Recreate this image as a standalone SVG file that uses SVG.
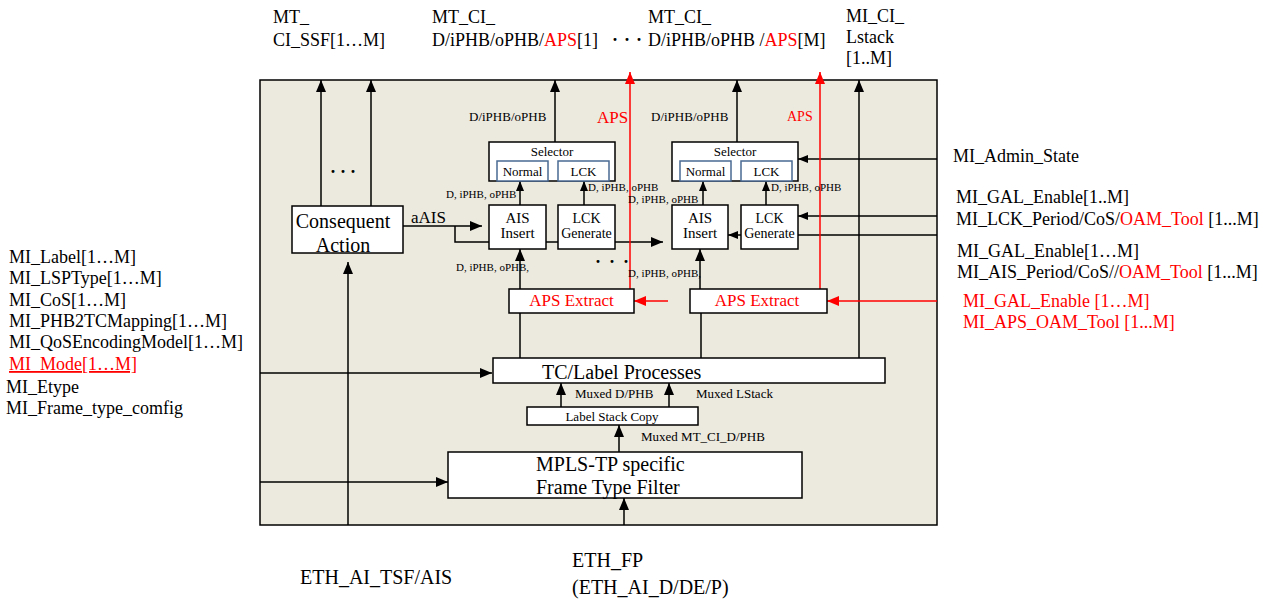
<svg xmlns="http://www.w3.org/2000/svg" width="1268" height="603" viewBox="0 0 1268 603">
<defs>
<marker id="ab" viewBox="0 0 12 10" refX="12" refY="5" markerWidth="12" markerHeight="10" markerUnits="userSpaceOnUse" orient="auto"><path d="M0,0 L12,5 L0,10 z" fill="#000"/></marker>
<marker id="as" viewBox="0 0 10 8" refX="10" refY="4" markerWidth="10" markerHeight="8" markerUnits="userSpaceOnUse" orient="auto"><path d="M0,0 L10,4 L0,8 z" fill="#000"/></marker>
<marker id="ar" viewBox="0 0 12 10" refX="12" refY="5" markerWidth="12" markerHeight="10" markerUnits="userSpaceOnUse" orient="auto"><path d="M0,0 L12,5 L0,10 z" fill="#f00"/></marker>
</defs>
<style>
text{font-family:"Liberation Serif","Times New Roman",serif;fill:#000;font-size:18px}
.r{fill:#f00}
.m{text-anchor:middle}
.s11{font-size:11px}
.s13{font-size:13px}
.box{fill:#fff;stroke:#000;stroke-width:1.5}
.inner{fill:#fff;stroke:#4a6a92;stroke-width:1.5}
.c{stroke:#000;stroke-width:1.5;fill:none}
.cr{stroke:#f00;stroke-width:1.5;fill:none}
</style>
<rect x="0" y="0" width="1268" height="603" fill="#fff"/>
<rect id="frame" x="260" y="80" width="677" height="445" fill="#ECE9DF" stroke="#000" stroke-width="1.5"/>

<g id="connectors">
<line class="c" x1="321" y1="206" x2="321" y2="80" marker-end="url(#ab)"/>
<line class="c" x1="371" y1="206" x2="371" y2="80" marker-end="url(#ab)"/>
<line class="c" x1="555" y1="142" x2="555" y2="80" marker-end="url(#ab)"/>
<line class="c" x1="737" y1="142" x2="737" y2="80" marker-end="url(#ab)"/>
<line class="c" x1="859" y1="358" x2="859" y2="80" marker-end="url(#ab)"/>
<line class="c" x1="520" y1="205" x2="520" y2="181" marker-end="url(#as)"/>
<line class="c" x1="584" y1="205" x2="584" y2="181" marker-end="url(#as)"/>
<line class="c" x1="703" y1="205" x2="703" y2="181" marker-end="url(#as)"/>
<line class="c" x1="766" y1="205" x2="766" y2="181" marker-end="url(#as)"/>
<line class="c" x1="403" y1="226" x2="482" y2="226" marker-end="url(#ab)"/>
<polyline class="c" points="455,226 455,242 489,242"/>
<line class="c" x1="546" y1="242" x2="558" y2="242"/>
<line class="c" x1="615" y1="242" x2="663" y2="242" marker-end="url(#ab)"/>
<line class="c" x1="741" y1="235" x2="728" y2="235" marker-end="url(#as)"/>
<line class="c" x1="937" y1="159" x2="798" y2="159" marker-end="url(#as)"/>
<line class="c" x1="937" y1="216" x2="798" y2="216" marker-end="url(#as)"/>
<line class="c" x1="798" y1="235" x2="937" y2="235"/>
<line class="c" x1="520" y1="289" x2="520" y2="249" marker-end="url(#ab)"/>
<line class="c" x1="700" y1="289" x2="700" y2="249" marker-end="url(#ab)"/>
<line class="c" x1="520" y1="358" x2="520" y2="313"/>
<line class="c" x1="701" y1="358" x2="701" y2="313"/>
<line class="c" x1="348" y1="525" x2="348" y2="262" marker-end="url(#ab)"/>
<line class="c" x1="260" y1="373" x2="492" y2="373" marker-end="url(#ab)"/>
<line class="c" x1="260" y1="482" x2="448" y2="482" marker-end="url(#ab)"/>
<line class="c" x1="619" y1="452" x2="619" y2="425" marker-end="url(#ab)"/>
<line class="c" x1="561" y1="407" x2="561" y2="383" marker-end="url(#ab)"/>
<line class="c" x1="669" y1="407" x2="669" y2="383" marker-end="url(#ab)"/>
<line class="c" x1="624" y1="525" x2="624" y2="498" marker-end="url(#ab)"/>
<line class="cr" x1="630" y1="289" x2="630" y2="72" marker-end="url(#ar)"/>
<line class="cr" x1="820" y1="289" x2="820" y2="72" marker-end="url(#ar)"/>
<line class="cr" x1="668" y1="301" x2="634" y2="301" marker-end="url(#ar)"/>
<line class="cr" x1="937" y1="301" x2="827" y2="301" marker-end="url(#ar)"/>
</g>

<g id="consequent-action">
<rect class="box" x="292" y="206" width="111" height="47"/>
<text class="m" x="343" y="228" style="font-size:20px">Consequent</text>
<text class="m" x="343" y="252" style="font-size:20px">Action</text>
</g>
<g id="selector-1">
<rect class="box" x="489" y="142" width="126" height="39"/>
<text class="m s13" x="552" y="156">Selector</text>
<rect class="inner" x="497" y="161" width="51" height="20"/>
<text class="m s13" x="522.5" y="176">Normal</text>
<rect class="inner" x="558" y="161" width="51" height="20"/>
<text class="m s13" x="583.5" y="176">LCK</text>
</g>
<g id="ais-insert-1">
<rect class="box" x="489" y="205" width="57" height="44"/>
<text class="m" x="517.5" y="223" style="font-size:15px">AIS</text>
<text class="m" x="517.5" y="238" style="font-size:15px">Insert</text>
</g>
<g id="lck-generate-1">
<rect class="box" x="558" y="205" width="57" height="44"/>
<text class="m" x="586.5" y="223" style="font-size:14px">LCK</text>
<text class="m" x="586.5" y="238" style="font-size:14px">Generate</text>
</g>
<g id="selector-2">
<rect class="box" x="672" y="142" width="126" height="39"/>
<text class="m s13" x="735" y="156">Selector</text>
<rect class="inner" x="680" y="161" width="51" height="20"/>
<text class="m s13" x="705.5" y="176">Normal</text>
<rect class="inner" x="741" y="161" width="51" height="20"/>
<text class="m s13" x="766.5" y="176">LCK</text>
</g>
<g id="ais-insert-2">
<rect class="box" x="672" y="205" width="56" height="44"/>
<text class="m" x="700" y="223" style="font-size:15px">AIS</text>
<text class="m" x="700" y="238" style="font-size:15px">Insert</text>
</g>
<g id="lck-generate-2">
<rect class="box" x="741" y="205" width="57" height="44"/>
<text class="m" x="769.5" y="223" style="font-size:14px">LCK</text>
<text class="m" x="769.5" y="238" style="font-size:14px">Generate</text>
</g>
<g id="aps-extract-1">
<rect class="box" x="509" y="289" width="125" height="24"/>
<text class="m r" x="571.5" y="306" style="font-size:17px">APS Extract</text>
</g>
<g id="aps-extract-2">
<rect class="box" x="690" y="289" width="137" height="24"/>
<text class="m r" x="757" y="306" style="font-size:17px">APS Extract</text>
</g>
<g id="tc-label-processes">
<rect class="box" x="493" y="358" width="392" height="25"/>
<text x="542" y="379" style="font-size:20px">TC/Label Processes</text>
</g>
<g id="label-stack-copy">
<rect class="box" x="527" y="407" width="171" height="18"/>
<text class="m s13" x="612" y="421">Label Stack Copy</text>
</g>
<g id="frame-type-filter">
<rect class="box" x="448" y="452" width="354" height="46"/>
<text x="536" y="471" style="font-size:20px">MPLS-TP specific</text>
<text x="536" y="494" style="font-size:20px">Frame Type Filter</text>
</g>

<g id="labels">
<text x="273" y="23">MT_</text>
<text x="273" y="46">CI_SSF[1…M]</text>
<text x="432" y="23">MT_CI_</text>
<text x="432" y="46">D/iPHB/oPHB/<tspan class="r">APS</tspan>[1]</text>
<text x="612 624 636" y="46" style="font-weight:bold">···</text>
<text x="648" y="23">MT_CI_</text>
<text x="648" y="46">D/iPHB/oPHB /<tspan class="r">APS</tspan>[M]</text>
<text x="846" y="22">MI_CI_</text>
<text x="846" y="43">Lstack</text>
<text x="846" y="64">[1..M]</text>

<text class="s13" x="469" y="121">D/iPHB/oPHB</text>
<text class="r" x="597" y="123" style="font-size:17px">APS</text>
<text class="s13" x="651" y="121">D/iPHB/oPHB</text>
<text class="r" x="787" y="121" style="font-size:14px">APS</text>
<text x="330 340 350" y="178" style="font-weight:bold">···</text>
<text x="411" y="223" style="font-size:17px">aAIS</text>

<text class="s11" x="446" y="198">D, iPHB, oPHB</text>
<text class="s11" x="588" y="191">D, iPHB, oPHB</text>
<text class="s11" x="456" y="271">D, iPHB, oPHB,</text>
<text class="s11" x="628" y="203">D, iPHB, oPHB</text>
<text class="s11" x="771" y="191">D, iPHB, oPHB</text>
<text class="s11" x="628" y="277">D, iPHB, oPHB,</text>
<text x="595 609 623" y="268" style="font-weight:bold">···</text>

<text class="s13" x="575" y="398">Muxed D/PHB</text>
<text class="s13" x="696" y="398">Muxed LStack</text>
<text class="s13" x="641" y="441">Muxed MT_CI_D/PHB</text>

<text x="9" y="263">MI_Label[1…M]</text>
<text x="9" y="284">MI_LSPType[1…M]</text>
<text x="9" y="306">MI_CoS[1…M]</text>
<text x="9" y="327">MI_PHB2TCMapping[1…M]</text>
<text x="9" y="348">MI_QoSEncodingModel[1…M]</text>
<text class="r" x="9" y="370" style="text-decoration:underline">MI_Mode[1…M]</text>
<text x="6" y="393">MI_Etype</text>
<text x="6" y="414">MI_Frame_type_comfig</text>

<text x="953" y="162">MI_Admin_State</text>
<text x="956" y="203">MI_GAL_Enable[1..M]</text>
<text x="956" y="225">MI_LCK_Period/CoS/<tspan class="r">OAM_Tool</tspan> [1...M]</text>
<text x="957" y="257">MI_GAL_Enable[1…M]</text>
<text x="957" y="278">MI_AIS_Period/CoS//<tspan class="r">OAM_Tool</tspan> [1...M]</text>
<text class="r" x="963" y="307">MI_GAL_Enable [1…M]</text>
<text class="r" x="963" y="328">MI_APS_OAM_Tool [1...M]</text>

<text x="300" y="584" style="font-size:20px">ETH_AI_TSF/AIS</text>
<text x="572" y="567" style="font-size:20px">ETH_FP</text>
<text x="572" y="594" style="font-size:20px">(ETH_AI_D/DE/P)</text>
</g>
</svg>
